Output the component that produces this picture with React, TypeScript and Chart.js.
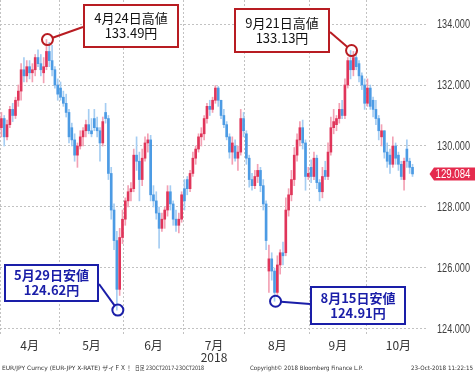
import React, { useEffect, useRef } from 'react';
import { Chart, registerables } from 'chart.js';

Chart.register(...registerables);

// ---------------- data ----------------
const MONTH_NUMBERS = [4, 5, 6, 7, 8, 9, 10];
const MONTH_LABELS = ['4月', '5月', '6月', '7月', '8月', '9月', '10月'];
const YEAR_LABEL = '2018';
const YEAR_MONTH = 7; // month under which the year is printed
const TRADING_DAYS = [
  [2, 3, 4, 5, 6, 9, 10, 11, 12, 13, 16, 17, 18, 19, 20, 23, 24, 25, 26, 27, 30],
  [1, 2, 3, 4, 7, 8, 9, 10, 11, 14, 15, 16, 17, 18, 21, 22, 23, 24, 25, 28, 29, 30, 31],
  [1, 4, 5, 6, 7, 8, 11, 12, 13, 14, 15, 18, 19, 20, 21, 22, 25, 26, 27, 28, 29],
  [2, 3, 4, 5, 6, 9, 10, 11, 12, 13, 16, 17, 18, 19, 20, 23, 24, 25, 26, 27, 30, 31],
  [1, 2, 3, 6, 7, 8, 9, 10, 13, 14, 15, 16, 17, 20, 21, 22, 23, 24, 27, 28, 29, 30, 31],
  [3, 4, 5, 6, 7, 10, 11, 12, 13, 14, 17, 18, 19, 20, 21, 24, 25, 26, 27, 28],
  [1, 2, 3, 4, 5, 8, 9, 10, 11, 12, 15, 16, 17, 18, 19, 22, 23],
];
const LAST_MONTH_FULL_TRADING_DAYS = 23;

const OPEN = [
  130.6, 130.9, 130.3, 130.7, 131.2, 131.0, 131.5, 131.8, 132.5, 132.3, 132.6, 132.4, 132.5, 132.9, 132.7, 132.4, 132.6, 133.1, 132.8, 132.5, 132.0,
  131.9, 131.6, 131.4, 131.1, 130.6, 130.2, 129.7, 130.0, 130.3, 130.5, 130.7, 130.5, 130.9, 130.6, 130.5, 130.1, 131.1, 130.9, 129.1, 127.9, 126.9, 125.3, 127.0,
  127.6, 128.2, 128.5, 128.6, 129.7, 129.5, 128.9, 129.6, 130.1, 130.2, 128.4, 128.2, 127.8, 127.3, 127.6, 127.9, 128.5, 128.1, 127.6, 127.4, 127.6,
  128.6, 128.9, 128.6, 129.1, 129.6, 129.9, 130.3, 130.4, 130.9, 131.3, 131.2, 131.5, 131.9, 131.5, 131.0, 130.7, 130.3, 129.8, 130.0, 129.6, 129.8, 130.9,
  130.4, 129.6, 128.9, 128.7, 129.0, 129.2, 128.7, 128.1, 125.9, 126.3, 125.9, 125.2, 126.1, 126.5, 126.5, 127.9, 128.4, 128.9, 129.7, 130.2, 130.6, 130.1, 129.0,
  129.3, 129.0, 129.6, 128.8, 128.5, 129.2, 129.0, 129.8, 130.6, 130.7, 130.9, 131.2, 131.0, 132.0, 132.8, 132.5, 132.9, 132.7, 132.3, 132.0,
  131.4, 131.9, 131.5, 131.2, 130.9, 130.3, 130.5, 129.8, 129.7, 129.4, 130.0, 129.7, 129.4, 128.9, 129.9, 129.5, 129.3,
];
const HIGH = [
  131.1, 131.0, 130.85, 131.3, 131.4, 131.6, 132.0, 132.7, 132.9, 132.8, 132.8, 132.7, 133.0, 133.15, 133.0, 132.9, 133.49, 133.4, 133.3, 132.6, 132.2,
  132.1, 131.8, 131.7, 131.2, 130.75, 130.4, 130.1, 130.5, 130.6, 130.85, 131.2, 130.9, 131.2, 130.95, 130.6, 130.95, 131.4, 131.0, 129.3, 128.1, 127.2, 127.3, 127.9,
  128.3, 128.7, 128.8, 129.9, 130.3, 129.8, 129.9, 130.3, 130.4, 130.35, 128.7, 128.5, 128.0, 127.8, 128.0, 128.7, 128.7, 128.2, 127.9, 127.8, 128.5,
  128.9, 129.0, 129.2, 129.8, 130.0, 130.4, 130.6, 131.0, 131.4, 131.5, 131.6, 131.98, 131.95, 131.5, 131.2, 130.8, 130.4, 130.3, 130.2, 130.0, 131.2, 131.1,
  130.5, 129.7, 129.1, 129.2, 129.4, 129.3, 128.9, 128.2, 126.75, 126.5, 126.0, 126.4, 126.6, 126.85, 128.3, 128.6, 129.2, 129.95, 130.4, 130.8, 130.85, 130.2, 129.3,
  129.55, 129.8, 129.7, 128.9, 129.3, 129.5, 130.1, 130.95, 131.2, 131.0, 131.4, 131.5, 132.2, 132.9, 133.13, 133.1, 133.1, 132.8, 132.4, 132.2,
  132.2, 132.0, 131.6, 131.5, 131.0, 130.7, 130.5, 130.1, 129.9, 130.3, 130.1, 129.8, 129.5, 129.6, 130.2, 129.6, 129.4,
];
const LOW = [
  130.3, 130.0, 130.2, 130.6, 130.8, 130.9, 131.3, 131.5, 132.1, 132.1, 132.2, 132.1, 132.3, 132.6, 132.3, 132.07, 132.5, 132.6, 132.3, 131.9, 131.5,
  131.5, 131.3, 130.95, 130.1, 130.0, 129.5, 129.3, 129.9, 130.0, 130.3, 130.4, 130.3, 130.5, 130.3, 129.5, 130.0, 130.75, 128.9, 127.6, 126.6, 124.62, 125.1, 126.8,
  127.4, 128.0, 128.2, 128.5, 129.2, 128.2, 128.7, 129.5, 129.8, 128.2, 128.0, 127.6, 126.65, 127.2, 127.3, 127.7, 127.9, 127.4, 127.2, 127.15, 127.5,
  127.9, 128.4, 128.5, 129.0, 129.4, 129.8, 130.0, 130.2, 130.75, 131.0, 131.1, 131.4, 131.3, 130.9, 130.6, 130.2, 129.6, 129.4, 129.5, 129.2, 129.7, 130.3,
  129.4, 128.65, 128.55, 128.6, 128.8, 128.5, 127.9, 126.6, 125.2, 125.6, 124.91, 125.1, 125.8, 126.1, 126.4, 127.7, 128.2, 128.7, 129.5, 130.0, 129.9, 128.55, 128.9,
  128.8, 128.9, 128.6, 128.2, 128.3, 128.9, 128.9, 129.7, 130.4, 130.5, 130.75, 130.9, 130.9, 131.9, 132.2, 132.3, 132.5, 132.1, 131.85, 131.2,
  131.3, 131.2, 130.95, 130.7, 130.2, 130.0, 129.6, 129.3, 129.1, 129.3, 129.4, 129.2, 128.9, 128.55, 129.3, 129.1, 129.0,
];
const CLOSE = [
  130.9, 130.3, 130.7, 131.2, 131.0, 131.5, 131.8, 132.5, 132.3, 132.6, 132.4, 132.5, 132.9, 132.7, 132.5, 132.6, 133.1, 132.8, 132.5, 132.0, 131.7,
  131.6, 131.4, 131.1, 130.3, 130.2, 129.7, 130.0, 130.3, 130.5, 130.7, 130.5, 130.4, 130.6, 130.5, 130.1, 130.8, 130.9, 129.1, 127.9, 126.9, 125.3, 127.0, 127.6,
  128.2, 128.5, 128.6, 129.7, 129.5, 128.9, 129.6, 130.1, 130.2, 128.4, 128.2, 127.8, 127.3, 127.6, 127.9, 128.5, 128.1, 127.6, 127.4, 127.6, 128.4,
  128.2, 128.6, 129.1, 129.6, 129.9, 130.3, 130.4, 130.9, 131.3, 131.2, 131.5, 131.9, 131.5, 131.0, 130.7, 130.3, 129.8, 130.1, 129.6, 129.8, 130.9, 130.5,
  129.6, 128.9, 128.7, 129.0, 129.2, 128.7, 128.1, 126.9, 126.3, 125.9, 125.2, 126.1, 126.5, 126.4, 127.9, 128.4, 128.9, 129.7, 130.2, 130.6, 130.1, 129.0, 129.1,
  129.0, 129.6, 128.8, 128.5, 129.0, 129.0, 129.8, 130.6, 130.8, 130.9, 131.2, 131.0, 132.0, 132.8, 132.5, 132.9, 132.6, 132.3, 132.0, 131.4,
  131.9, 131.3, 131.2, 130.9, 130.5, 130.5, 129.8, 129.5, 129.4, 130.0, 129.6, 129.4, 129.0, 129.5, 129.5, 129.3, 129.084,
];
const Y_TICKS = [124, 126, 128, 130, 132, 134];
const LAST_PRICE = 129.084;

// marked extremes: index of the candle and which extreme
const MARKS = [
  { index: 16, kind: 'high' },
  { index: 124, kind: 'high' },
  { index: 41, kind: 'low' },
  { index: 97, kind: 'low' },
];

const FOOTER_LEFT_1 = 'EUR/JPY Curncy (EUR-JPY X-RATE) ザイＦＸ！';
const FOOTER_LEFT_2 = '日足 23OCT2017-23OCT2018';
const FOOTER_MID = 'Copyright© 2018 Bloomberg Finance L.P.';
const FOOTER_RIGHT = '23-Oct-2018 11:22:15';

// ---------------- layout / style ----------------
const W = 475;
const H = 373;
const Y_MIN = 123.803;
const Y_MAX = 134.787;
const X_MIN = -0.5;
const X_MAX = 151.5;
const GRID = '#c2c2c2';
const UP_BODY = '#e0355a';
const UP_WICK = '#f3a1b4';
const DOWN_BODY = '#4c9be4';
const DOWN_WICK = '#a5cdf2';
const RED_MARK = '#b81c22';
const BLUE_MARK = '#1a1ea8';
const TAG_RED = '#e52b4e';
const NUM_FONT = "'Liberation Sans', Arial, sans-serif";
const JP_FONT = "'Noto Sans CJK JP', 'Noto Sans', sans-serif";
const Y_LABEL_GAP = 9;
const Y_LABEL_MAXW = 33;
// boxes: [left, top, width, height, anchorX, anchorY]
const MARK_BOXES = [
  [83, 4, 96, 44, 83, 27],
  [234, 8, 96, 45, 330, 32],
  [4, 264, 95, 38, 99, 284],
  [310, 286, 96, 39, 310, 304],
];

export default function App() {
  const ref = useRef<HTMLCanvasElement | null>(null);

  useEffect(() => {
    const canvas = ref.current;
    if (!canvas) return;

    const monthOf: number[] = [];
    const dayOf: number[] = [];
    TRADING_DAYS.forEach((days, m) => days.forEach((d) => { monthOf.push(MONTH_NUMBERS[m]); dayOf.push(d); }));

    const starts: number[] = [];
    let acc = 0;
    TRADING_DAYS.forEach((days) => { starts.push(acc); acc += days.length; });
    const boundaries = starts.map((s) => s - 0.5);
    const centers = starts.map((s, k) => {
      const n = k === TRADING_DAYS.length - 1 ? LAST_MONTH_FULL_TRADING_DAYS : TRADING_DAYS[k].length;
      return s + (n - 1) / 2;
    });
    const boundarySet = new Set(boundaries);
    const centerMap = new Map<number, number>();
    centers.forEach((c, k) => centerMap.set(c, k));
    const xTicks = [...boundaries, ...centers].sort((a, b) => a - b);

    const n = CLOSE.length;
    const idx = Array.from({ length: n }, (_, i) => i);
    const up = idx.map((i) => CLOSE[i] >= OPEN[i]);
    const bodies = idx.map((i) => ({ x: i, y: [Math.min(OPEN[i], CLOSE[i]), Math.max(OPEN[i], CLOSE[i])] }));
    const wicks = idx.map((i) => ({ x: i, y: [LOW[i], HIGH[i]] }));

    const overlay = {
      id: 'overlay',
      afterDraw(chart: any) {
        const { ctx, chartArea } = chart;
        const xs = chart.scales.x;
        const ys = chart.scales.y;
        const r = chartArea.right;
        ctx.save();

        // y-axis tick labels (drawn condensed to fit like the original)
        ctx.fillStyle = '#404040';
        ctx.font = `12px ${NUM_FONT}`;
        ctx.textAlign = 'left';
        ctx.textBaseline = 'middle';
        ys.ticks.forEach((t: any) => {
          ctx.fillText(Number(t.value).toFixed(3), r + Y_LABEL_GAP, ys.getPixelForValue(t.value) + 1, Y_LABEL_MAXW);
        });

        // last price tag
        const py = ys.getPixelForValue(LAST_PRICE);
        ctx.fillStyle = TAG_RED;
        ctx.beginPath();
        ctx.moveTo(r + 1.5, py);
        ctx.lineTo(r + 6, py - 6.5);
        ctx.lineTo(W, py - 6.5);
        ctx.lineTo(W, py + 6.5);
        ctx.lineTo(r + 6, py + 6.5);
        ctx.closePath();
        ctx.fill();
        ctx.fillStyle = '#ffffff';
        ctx.font = `12px ${NUM_FONT}`;
        ctx.fillText(LAST_PRICE.toFixed(3), r + 7.5, py + 0.5, 35);

        // marks
        MARKS.forEach((mk, k) => {
          const isHigh = mk.kind === 'high';
          const v = isHigh ? HIGH[mk.index] : LOW[mk.index];
          const cx = xs.getPixelForValue(mk.index) + 1;
          const cy = ys.getPixelForValue(v);
          const [bx, by, bw, bh, ax, ay] = MARK_BOXES[k];
          const col = isHigh ? RED_MARK : BLUE_MARK;
          const rad = 5.5;
          const dx = ax - cx;
          const dy = ay - cy;
          const len = Math.hypot(dx, dy) || 1;
          ctx.strokeStyle = col;
          ctx.lineWidth = 2;
          ctx.beginPath();
          ctx.moveTo(cx + (dx / len) * rad, cy + (dy / len) * rad);
          ctx.lineTo(ax, ay);
          ctx.stroke();
          ctx.beginPath();
          ctx.arc(cx, cy, rad, 0, Math.PI * 2);
          ctx.stroke();

          ctx.fillStyle = '#ffffff';
          ctx.fillRect(bx, by, bw, bh);
          ctx.strokeRect(bx + 1, by + 1, bw - 2, bh - 2);

          const line1 = `${monthOf[mk.index]}月${dayOf[mk.index]}日${isHigh ? '高値' : '安値'}`;
          const line2 = `${v.toFixed(2)}円`;
          ctx.fillStyle = isHigh ? '#111111' : BLUE_MARK;
          ctx.font = `${isHigh ? '' : 'bold '}13px ${JP_FONT}`;
          ctx.textAlign = 'center';
          ctx.textBaseline = 'middle';
          const mx = bx + bw / 2;
          const my = by + bh / 2;
          ctx.fillText(line1, mx, my - 7.5);
          ctx.fillText(line2, mx, my + 7.5);
        });

        // footer
        ctx.fillStyle = '#333333';
        ctx.font = `6px 'DejaVu Sans', ${JP_FONT}`;
        ctx.textAlign = 'left';
        ctx.textBaseline = 'middle';
        const fy = 368;
        ctx.fillText(FOOTER_LEFT_1, 2, fy, 130);
        ctx.fillText(FOOTER_LEFT_2, 135, fy, 69);
        ctx.fillText(FOOTER_MID, 250, fy, 113);
        ctx.fillText(FOOTER_RIGHT, 411, fy, 62);
        ctx.restore();
      },
    };

    const chart = new Chart(canvas, {
      type: 'bar',
      data: {
        datasets: [
          {
            label: 'body',
            data: bodies as any,
            backgroundColor: up.map((u) => (u ? UP_BODY : DOWN_BODY)),
            borderWidth: 0,
            barThickness: 2,
            minBarLength: 1,
            grouped: false,
          } as any,
          {
            label: 'wick',
            data: wicks as any,
            backgroundColor: up.map((u) => (u ? UP_WICK : DOWN_WICK)),
            borderWidth: 0,
            barThickness: 1,
            grouped: false,
          } as any,
        ],
      },
      options: {
        responsive: false,
        animation: false,
        devicePixelRatio: 1,
        layout: { padding: 0 },
        plugins: { legend: { display: false }, tooltip: { enabled: false } },
        scales: {
          x: {
            type: 'linear',
            min: X_MIN,
            max: X_MAX,
            offset: false,
            afterBuildTicks: (s: any) => { s.ticks = xTicks.map((v) => ({ value: v })); },
            afterFit: (s: any) => { s.height = H - 335; s.paddingLeft = 0; s.paddingRight = 0; },
            grid: {
              offset: false,
              drawTicks: false,
              lineWidth: 1,
              color: (c: any) => (c.tick && boundarySet.has(c.tick.value) ? GRID : 'rgba(0,0,0,0)'),
            },
            border: { display: false, dash: [2, 2] },
            ticks: {
              autoSkip: false,
              maxRotation: 0,
              minRotation: 0,
              padding: 4,
              color: '#333333',
              font: { family: JP_FONT, size: 12, lineHeight: 1 },
              callback: (v: any) => {
                const k = centerMap.get(Number(v));
                if (k === undefined) return '';
                return MONTH_NUMBERS[k] === YEAR_MONTH ? [MONTH_LABELS[k], YEAR_LABEL] : MONTH_LABELS[k];
              },
            },
          },
          y: {
            type: 'linear',
            position: 'right',
            min: Y_MIN,
            max: Y_MAX,
            beginAtZero: false,
            afterBuildTicks: (s: any) => { s.ticks = Y_TICKS.map((v) => ({ value: v })); },
            afterFit: (s: any) => { s.width = 47; s.paddingTop = 0; s.paddingBottom = 0; },
            grid: { color: GRID, drawTicks: false, lineWidth: 1 },
            border: { display: false, dash: [2, 2] },
            ticks: {
              display: false,
              callback: (v: any) => Number(v).toFixed(3),
            },
          },
        },
      } as any,
      plugins: [overlay],
    });

    return () => chart.destroy();
  }, []);

  return (
    <div style={{ position: 'fixed', left: 0, top: 0, width: W, height: H, background: '#ffffff' }}>
      <canvas ref={ref} width={W} height={H} style={{ display: 'block', width: W, height: H }} />
    </div>
  );
}
